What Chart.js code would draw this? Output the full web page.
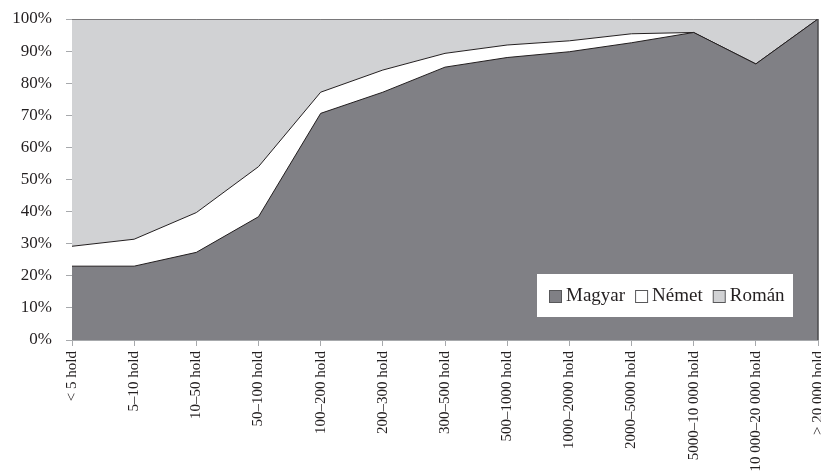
<!DOCTYPE html>
<html><head><meta charset="utf-8">
<script src="https://cdn.jsdelivr.net/npm/chart.js@4.4.1/dist/chart.umd.min.js"></script>
<style>html,body{margin:0;padding:0;background:#fff;} #wrap{width:821px;height:473px;position:relative;}</style>
</head><body><div id="wrap"><canvas id="c" width="821" height="473"></canvas></div>
<script>
const categories = ['< 5 hold','5–10 hold','10–50 hold','50–100 hold','100–200 hold','200–300 hold','300–500 hold','500–1000 hold','1000–2000 hold','2000–5000 hold','5000–10 000 hold','10 000–20 000 hold','> 20 000 hold'];
const magyar = [23, 23, 27.3, 38.4, 70.6, 77.2, 85, 88, 89.8, 92.6, 95.8, 86, 100];
const nemet  = [6.2, 8.4, 12.4, 15.6, 6.6, 6.9, 4.3, 3.9, 3.4, 2.8, 0, 0, 0];
const roman  = [70.8, 68.6, 60.3, 46, 22.8, 15.9, 10.7, 8.1, 6.8, 4.6, 4.2, 14, 0];
const seriesNames = ['Magyar', 'Német', 'Román'];

Chart.defaults.font.family = '"Liberation Serif", "DejaVu Serif", serif';
Chart.defaults.color = '#231f20';

const insideLegend = {
  id: 'insideLegend',
  afterDraw(chart) {
    const ctx = chart.ctx, a = chart.chartArea;
    const boxW = 256, boxH = 43;
    const x0 = a.right - 25 - boxW, y0 = a.bottom - 23 - boxH;
    ctx.save();
    ctx.fillStyle = '#ffffff';
    ctx.fillRect(x0, y0, boxW, boxH);
    ctx.font = '19px "Liberation Serif", serif';
    ctx.textBaseline = 'alphabetic';
    ctx.textAlign = 'left';
    let x = x0 + 12;
    const base = y0 + 27;
    chart.data.datasets.forEach(ds => {
      ctx.fillStyle = ds.backgroundColor;
      ctx.strokeStyle = '#58585a';
      ctx.lineWidth = 1;
      ctx.fillRect(x + 0.5, base - 10.5, 12, 12);
      ctx.strokeRect(x + 0.5, base - 10.5, 12, 12);
      x += 17;
      ctx.fillStyle = '#231f20';
      ctx.fillText(ds.label, x, base);
      x += ctx.measureText(ds.label).width + 10;
    });
    ctx.restore();
  }
};

const rightBorder = {
  id: 'rightBorder',
  afterDatasetsDraw(chart) {
    const ctx = chart.ctx, a = chart.chartArea;
    ctx.save();
    ctx.strokeStyle = '#4a4a4c';
    ctx.lineWidth = 1.5;
    ctx.beginPath();
    ctx.moveTo(a.right, a.top);
    ctx.lineTo(a.right, a.bottom);
    ctx.stroke();
    ctx.restore();
  }
};

new Chart(document.getElementById('c'), {
  type: 'line',
  data: {
    labels: categories,
    datasets: [
      { label: seriesNames[0], data: magyar, backgroundColor: '#808085', borderColor: '#231f20', borderWidth: 1, fill: 'origin', pointRadius: 0, tension: 0 },
      { label: seriesNames[1], data: nemet, backgroundColor: '#ffffff', borderColor: '#231f20', borderWidth: 1, fill: '-1', pointRadius: 0, tension: 0 },
      { label: seriesNames[2], data: roman, backgroundColor: '#d1d2d4', borderColor: '#231f20', borderWidth: 1, fill: '-1', pointRadius: 0, tension: 0 }
    ]
  },
  options: {
    responsive: false,
    animation: false,
    layout: { padding: { top: 19, right: 3, left: 0, bottom: 0 } },
    plugins: { legend: { display: false }, tooltip: { enabled: false } },
    scales: {
      x: {
        offset: false,
        grid: { display: true, drawOnChartArea: false, drawTicks: true, tickLength: 6, color: '#a7a9ac', offset: false },
        border: { color: '#a7a9ac', width: 1 },
        ticks: { autoSkip: false, maxRotation: 90, minRotation: 90, padding: 5, font: { size: 15 }, color: '#231f20' },
        afterFit(scale) { scale.height = 133; scale.paddingRight = 0; scale.paddingTop = 0; }
      },
      y: {
        stacked: true,
        min: 0, max: 100,
        grid: { display: true, drawOnChartArea: false, drawTicks: true, tickLength: 6, color: '#a7a9ac' },
        border: { color: '#a7a9ac', width: 1 },
        ticks: { stepSize: 10, padding: 14, font: { size: 17 }, color: '#231f20', callback: v => v + '%' },
        afterFit(scale) { scale.width = 72; scale.paddingTop = 0; scale.paddingBottom = 0; }
      }
    }
  },
  plugins: [rightBorder, insideLegend]
});
</script>
</body></html>
